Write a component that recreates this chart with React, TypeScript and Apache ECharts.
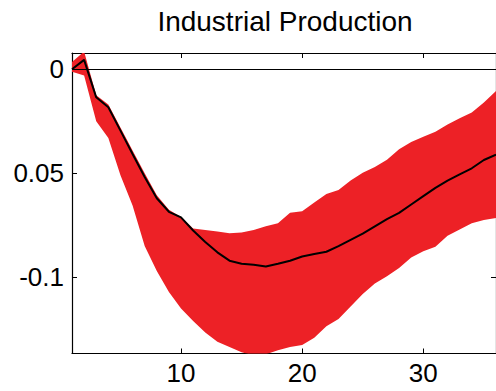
import React, { useEffect, useRef } from "react";
import * as echarts from "echarts";

const titleText = "Industrial Production";
const horizons = Array.from({ length: 36 }, (_, i) => i + 1);
const median = [
  0, 0.0045, -0.0135, -0.0183, -0.0295, -0.0407, -0.0518, -0.062, -0.0685, -0.0712,
  -0.0775, -0.083, -0.088, -0.092, -0.0935, -0.094, -0.0948, -0.0935, -0.092, -0.09,
  -0.0888, -0.0877, -0.085, -0.082, -0.079, -0.0755, -0.072, -0.069, -0.065, -0.061,
  -0.057, -0.0535, -0.0505, -0.0476, -0.0436, -0.041,
];
const upper = [
  0.0035, 0.0085, -0.0125, -0.017, -0.028, -0.039, -0.05, -0.0605, -0.0675, -0.071,
  -0.0765, -0.0773, -0.078, -0.0788, -0.0785, -0.0772, -0.0755, -0.074, -0.069, -0.0683,
  -0.064, -0.06, -0.058, -0.0535, -0.0497, -0.047, -0.0435, -0.0385, -0.035, -0.0325,
  -0.03, -0.0265, -0.0235, -0.0208, -0.016, -0.0105,
];
const lower = [
  -0.0012, -0.003, -0.025, -0.033, -0.051, -0.0655, -0.085, -0.097, -0.107, -0.115,
  -0.121, -0.1265, -0.131, -0.1335, -0.136, -0.1375, -0.137, -0.135, -0.1335, -0.1325,
  -0.129, -0.1235, -0.12, -0.114, -0.108, -0.103, -0.0995, -0.0955, -0.0905, -0.0875,
  -0.0853, -0.08, -0.077, -0.074, -0.0725, -0.0715,
];
const xTickValues = [10, 20, 30];
const yTickValues = [-0.1, -0.05, 0];
const yTickLabels = ["-0.1", "0.05", "0"];

const FONT = "'Liberation Sans', Arial, Helvetica, sans-serif";

export default function App() {
  const ref = useRef<HTMLDivElement>(null);
  useEffect(() => {
    if (!ref.current) return;
    const chart = echarts.init(ref.current, null, { renderer: "svg" });
    const xMin = 1, xMax = 36, yMin = -0.1366, yMax = 0.0078;
    const axisLineStyle = { color: "#000", width: 1.2 };
    const bandData = horizons.map((h, i) => [h, lower[i], upper[i]]);
    const medianData = horizons.map((h, i) => [h, median[i]]);
    chart.setOption({
      animation: false,
      backgroundColor: "#fff",
      graphic: [
        {
          type: "text",
          x: 285,
          y: 21,
          style: {
            text: titleText,
            fontFamily: FONT,
            fontSize: 28,
            fill: "#000",
            textAlign: "center",
            textVerticalAlign: "middle",
          },
        },
      ],
      grid: { left: 72, top: 53, width: 426, height: 300.5, containLabel: false },
      xAxis: [
        {
          type: "value",
          min: xMin,
          max: xMax,
          position: "bottom",
          axisLine: { show: true, onZero: false, lineStyle: axisLineStyle },
          axisTick: { show: true, inside: true, length: 5, customValues: xTickValues, lineStyle: { color: "#000", width: 1 } },
          axisLabel: { show: true, customValues: xTickValues, color: "#000", fontFamily: FONT, fontSize: 26, margin: 6 },
          splitLine: { show: false },
        },
        {
          type: "value",
          min: xMin,
          max: xMax,
          position: "top",
          axisLine: { show: true, onZero: false, lineStyle: axisLineStyle },
          axisTick: { show: true, inside: true, length: 5, customValues: xTickValues, lineStyle: { color: "#000", width: 1 } },
          axisLabel: { show: false },
          splitLine: { show: false },
        },
      ],
      yAxis: [
        {
          type: "value",
          min: yMin,
          max: yMax,
          position: "left",
          axisLine: { show: true, onZero: false, lineStyle: axisLineStyle },
          axisTick: { show: true, inside: true, length: 5, customValues: yTickValues, lineStyle: { color: "#000", width: 1 } },
          axisLabel: {
            show: true,
            customValues: yTickValues,
            color: "#000",
            fontFamily: FONT,
            fontSize: 26,
            margin: 8,
            formatter: (v: number) => {
              const idx = yTickValues.findIndex((t) => Math.abs(t - v) < 1e-9);
              return idx >= 0 ? yTickLabels[idx] : "";
            },
          },
          splitLine: { show: false },
        },
        {
          type: "value",
          min: yMin,
          max: yMax,
          position: "right",
          axisLine: { show: true, onZero: false, lineStyle: axisLineStyle },
          axisTick: { show: true, inside: true, length: 5, customValues: yTickValues, lineStyle: { color: "#000", width: 1 } },
          axisLabel: { show: false },
          splitLine: { show: false },
        },
      ],
      series: [
        {
          name: "band",
          type: "custom",
          data: bandData,
          silent: true,
          clip: true,
          z: 1,
          renderItem: (params: any, api: any) => {
            if (params.dataIndex !== 0) return null;
            const top = bandData.map((d) => api.coord([d[0], d[2]]));
            const bottom = bandData.map((d) => api.coord([d[0], d[1]])).reverse();
            return {
              type: "polygon",
              shape: { points: top.concat(bottom) },
              style: { fill: "#ed2126", stroke: "none" },
            };
          },
        },
        {
          name: "median",
          type: "line",
          data: medianData,
          symbol: "none",
          lineStyle: { color: "#000", width: 2 },
          z: 5,
          markLine: {
            silent: true,
            symbol: "none",
            label: { show: false },
            lineStyle: { color: "#000", width: 1, type: "solid" },
            data: [{ yAxis: 0 }],
          },
        },
      ],
    });
    return () => chart.dispose();
  }, []);
  return (
    <div
      ref={ref}
      style={{ position: "fixed", left: 0, top: 0, width: 496, height: 391 }}
    />
  );
}
